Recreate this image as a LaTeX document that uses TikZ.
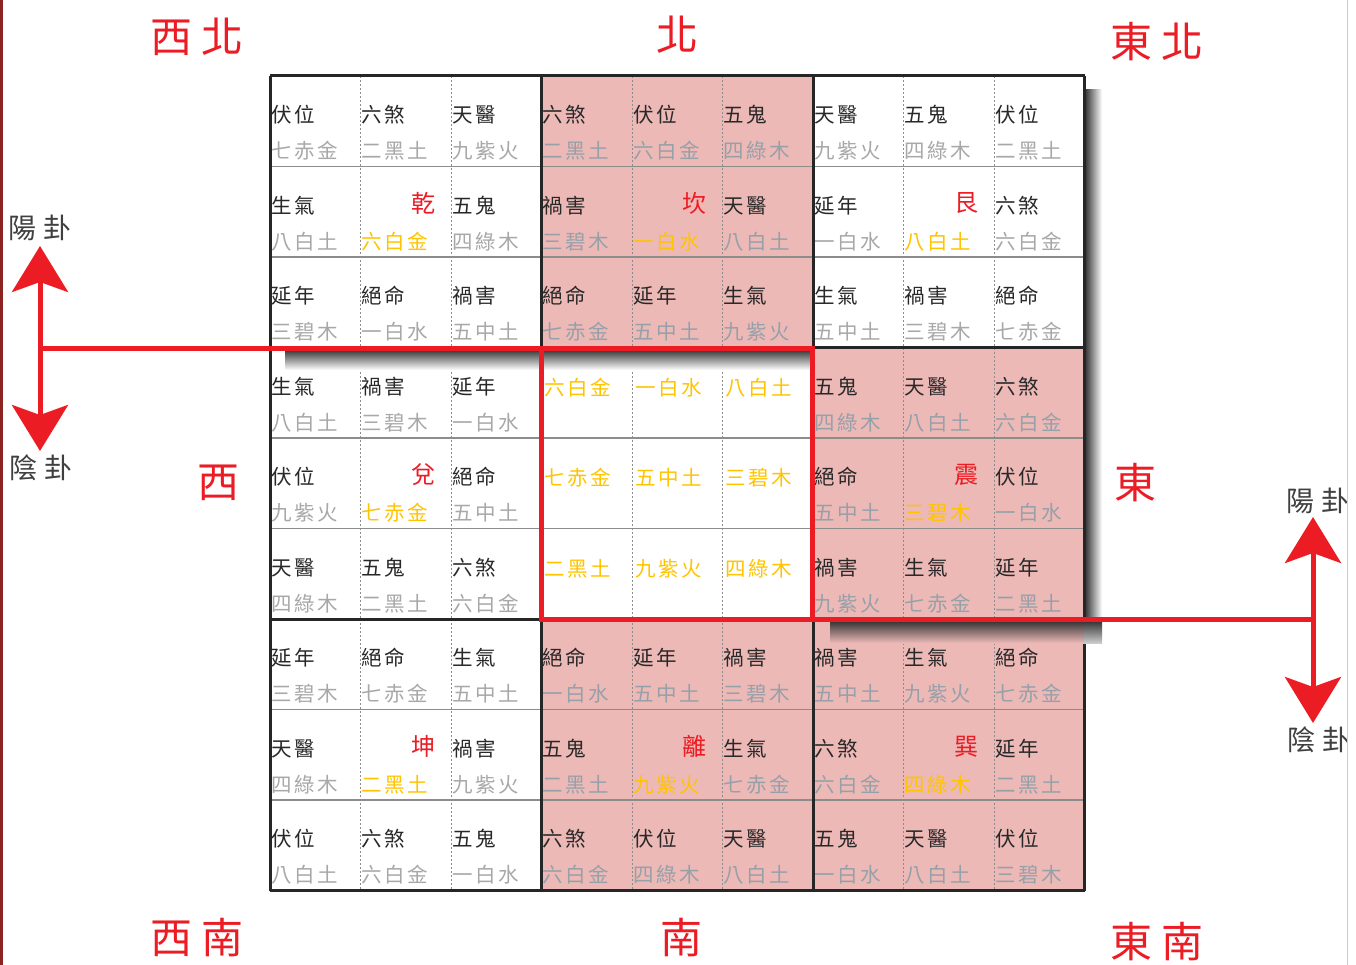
\documentclass[tikz,border=0pt]{standalone}
\usepackage{fontspec}
\newfontfamily\cjkfont{Noto Sans CJK TC}
\newfontfamily\cjkspaced[LetterSpace=12]{Noto Sans CJK TC}
\newfontfamily\cjkwide[LetterSpace=22]{Noto Sans CJK TC}
\usetikzlibrary{arrows.meta}
\definecolor{blockpink}{RGB}{236,185,183}
\definecolor{dirred}{RGB}{236,28,36}
\definecolor{numyellow}{RGB}{255,196,0}
\definecolor{txtgray}{RGB}{168,168,168}
\definecolor{txtgrayp}{RGB}{150,160,168}
\definecolor{txtblack}{RGB}{40,40,40}
\definecolor{edgered}{RGB}{140,35,35}
\tikzset{
  startxt/.style={font=\cjkspaced\fontsize{20.5}{22}\selectfont, text=txtblack, inner sep=0pt, anchor=west},
  numtxt/.style={font=\cjkspaced\fontsize{20.5}{22}\selectfont, text=#1, inner sep=0pt, anchor=west},
  gua/.style={font=\cjkfont\fontsize{24}{26}\selectfont, text=dirred, inner sep=0pt, anchor=east},
  dirlabel/.style={font=\cjkwide\fontsize{42}{44}\selectfont, text=dirred, inner sep=0pt},
  yylabel/.style={font=\cjkwide\fontsize{28}{30}\selectfont, text=black!75, inner sep=0pt},
  rowline/.style={draw=black!45, line width=1.3pt},
  colline/.style={draw=black!45, line width=1pt, dash pattern=on 2pt off 2pt},
  blockedge/.style={draw=black!85, line width=3pt},
  redline/.style={draw=dirred, line width=5pt},
  bigtip/.style={-{Stealth[length=46pt,width=56pt,inset=10pt]}}
}
% #1 name, #2 x0, #3 y0, #4 fill, #5 number colour, #6 list
\newcommand\baguablock[6]{%
  \fill[#4] (#2,#3) rectangle ++(271.5,271.5);
  \foreach \k in {1,2}{
    \draw[rowline] (#2,#3+\k*90.5) -- ++(271.5,0);
    \draw[colline] (#2+\k*90.5,#3) -- ++(0,271.5);
  }
  \foreach \a/\b [count=\i from 0] in {#6}{
    \pgfmathtruncatemacro\cc{mod(\i,3)}
    \pgfmathtruncatemacro\rr{div(\i,3)}
    \ifnum\i=4
      \node[gua] (#1-g) at (#2+\cc*90.5+75,#3+\rr*90.5+37) {\a};
      \node[numtxt=numyellow] (#1-n\i) at (#2+\cc*90.5+1,#3+\rr*90.5+75) {\b};
    \else
      \node[startxt] (#1-s\i) at (#2+\cc*90.5+1,#3+\rr*90.5+39) {\a};
      \node[numtxt=#5] (#1-n\i) at (#2+\cc*90.5+1,#3+\rr*90.5+75) {\b};
    \fi
  }
}
\begin{document}
\begin{tikzpicture}[x=1pt,y=-1pt]
\fill[white] (0,0) rectangle (1356,965);
\useasboundingbox (0,0) rectangle (1356,965);

\baguablock{nw}{270}{76}{white}{txtgray}{伏位/七赤金, 六煞/二黑土, 天醫/九紫火, 生氣/八白土, 乾/六白金, 五鬼/四綠木, 延年/三碧木, 絕命/一白水, 禍害/五中土}
\baguablock{n}{541.5}{76}{blockpink}{txtgrayp}{六煞/二黑土, 伏位/六白金, 五鬼/四綠木, 禍害/三碧木, 坎/一白水, 天醫/八白土, 絕命/七赤金, 延年/五中土, 生氣/九紫火}
\baguablock{ne}{813}{76}{white}{txtgray}{天醫/九紫火, 五鬼/四綠木, 伏位/二黑土, 延年/一白水, 艮/八白土, 六煞/六白金, 生氣/五中土, 禍害/三碧木, 絕命/七赤金}
\baguablock{w}{270}{347.5}{white}{txtgray}{生氣/八白土, 禍害/三碧木, 延年/一白水, 伏位/九紫火, 兌/七赤金, 絕命/五中土, 天醫/四綠木, 五鬼/二黑土, 六煞/六白金}
\baguablock{e}{813}{347.5}{blockpink}{txtgrayp}{五鬼/四綠木, 天醫/八白土, 六煞/六白金, 絕命/五中土, 震/三碧木, 伏位/一白水, 禍害/九紫火, 生氣/七赤金, 延年/二黑土}
\baguablock{sw}{270}{619}{white}{txtgray}{延年/三碧木, 絕命/七赤金, 生氣/五中土, 天醫/四綠木, 坤/二黑土, 禍害/九紫火, 伏位/八白土, 六煞/六白金, 五鬼/一白水}
\baguablock{s}{541.5}{619}{blockpink}{txtgrayp}{絕命/一白水, 延年/五中土, 禍害/三碧木, 五鬼/二黑土, 離/九紫火, 生氣/七赤金, 六煞/六白金, 伏位/四綠木, 天醫/八白土}
\baguablock{se}{813}{619}{blockpink}{txtgrayp}{禍害/五中土, 生氣/九紫火, 絕命/七赤金, 六煞/六白金, 巽/四綠木, 延年/二黑土, 五鬼/一白水, 天醫/八白土, 伏位/三碧木}

% centre block
\foreach \k in {1,2}{
  \draw[rowline] (541.5,347.5+\k*90.5) -- ++(271.5,0);
  \draw[colline] (541.5+\k*90.5,347.5) -- ++(0,271.5);
}
\foreach \b [count=\i from 0] in {六白金, 一白水, 八白土, 七赤金, 五中土, 三碧木, 二黑土, 九紫火, 四綠木}{
  \pgfmathtruncatemacro\cc{mod(\i,3)}
  \pgfmathtruncatemacro\rr{div(\i,3)}
  \node[numtxt=numyellow] (c-n\i) at (541.5+\cc*90.5+3,347.5+\rr*90.5+40) {\b};
}

% block edges
\foreach \v in {270,541.5,813,1084.5}{
  \draw[blockedge] (\v,76) -- (\v,890.5);
  \draw[blockedge] (270,\v-194) -- (1084.5,\v-194);
}

% shadows
\shade[top color=black!80, bottom color=white] (285,349.5) rectangle (812,370);
\shade[left color=black!75, right color=white] (1086,90) rectangle (1102,643);
\shade[top color=black!80, bottom color=blockpink] (830,621) rectangle (1084,643);
\shade[top color=black!80, bottom color=white!80!black] (1084,621) rectangle (1102,643);

% red frame and arrows
\coordinate (Lc) at (40,348);
\coordinate (Ltop) at (40,246);
\coordinate (Lbot) at (40,451);
\coordinate (c1) at (812,348);
\coordinate (c2) at (812,619);
\coordinate (c3) at (541.5,619);
\coordinate (c4) at (541.5,348);
\coordinate (Rc) at (1313,619);
\coordinate (Rtop) at (1313,517);
\coordinate (Rbot) at (1313,723);
\draw[redline] (Lc) -- (c1) -- (c2) -- (c3) -- (c4);
\draw[redline] (c2) -- (Rc);
\draw[redline, bigtip] (Lc) -- (Ltop);
\draw[redline, bigtip] (Lc) -- (Lbot);
\draw[redline, bigtip] (Rc) -- (Rtop);
\draw[redline, bigtip] (Rc) -- (Rbot);

% direction labels
\node[dirlabel] (lnw) at (197,37) {西北};
\node[dirlabel] (ln) at (677,35) {北};
\node[dirlabel] (lne) at (1157,42) {東北};
\node[dirlabel] (lw) at (218,483) {西};
\node[dirlabel] (le) at (1135,483) {東};
\node[dirlabel] (lsw) at (197,938) {西南};
\node[dirlabel] (ls) at (681,938) {南};
\node[dirlabel] (lse) at (1157,942) {東南};

% yin / yang labels
\node[yylabel] (yangL) at (40,228) {陽卦};
\node[yylabel] (yinL) at (41,468) {陰卦};
\node[yylabel] (yangR) at (1318,501) {陽卦};
\node[yylabel] (yinR) at (1319,740) {陰卦};

% page edges
\fill[white] (1347,0) rectangle (1356,965);
\draw[black!20, line width=1pt] (1347,0) -- (1347,965);
\draw[edgered, line width=3pt] (1.5,0) -- (1.5,965);
\end{tikzpicture}
\end{document}
